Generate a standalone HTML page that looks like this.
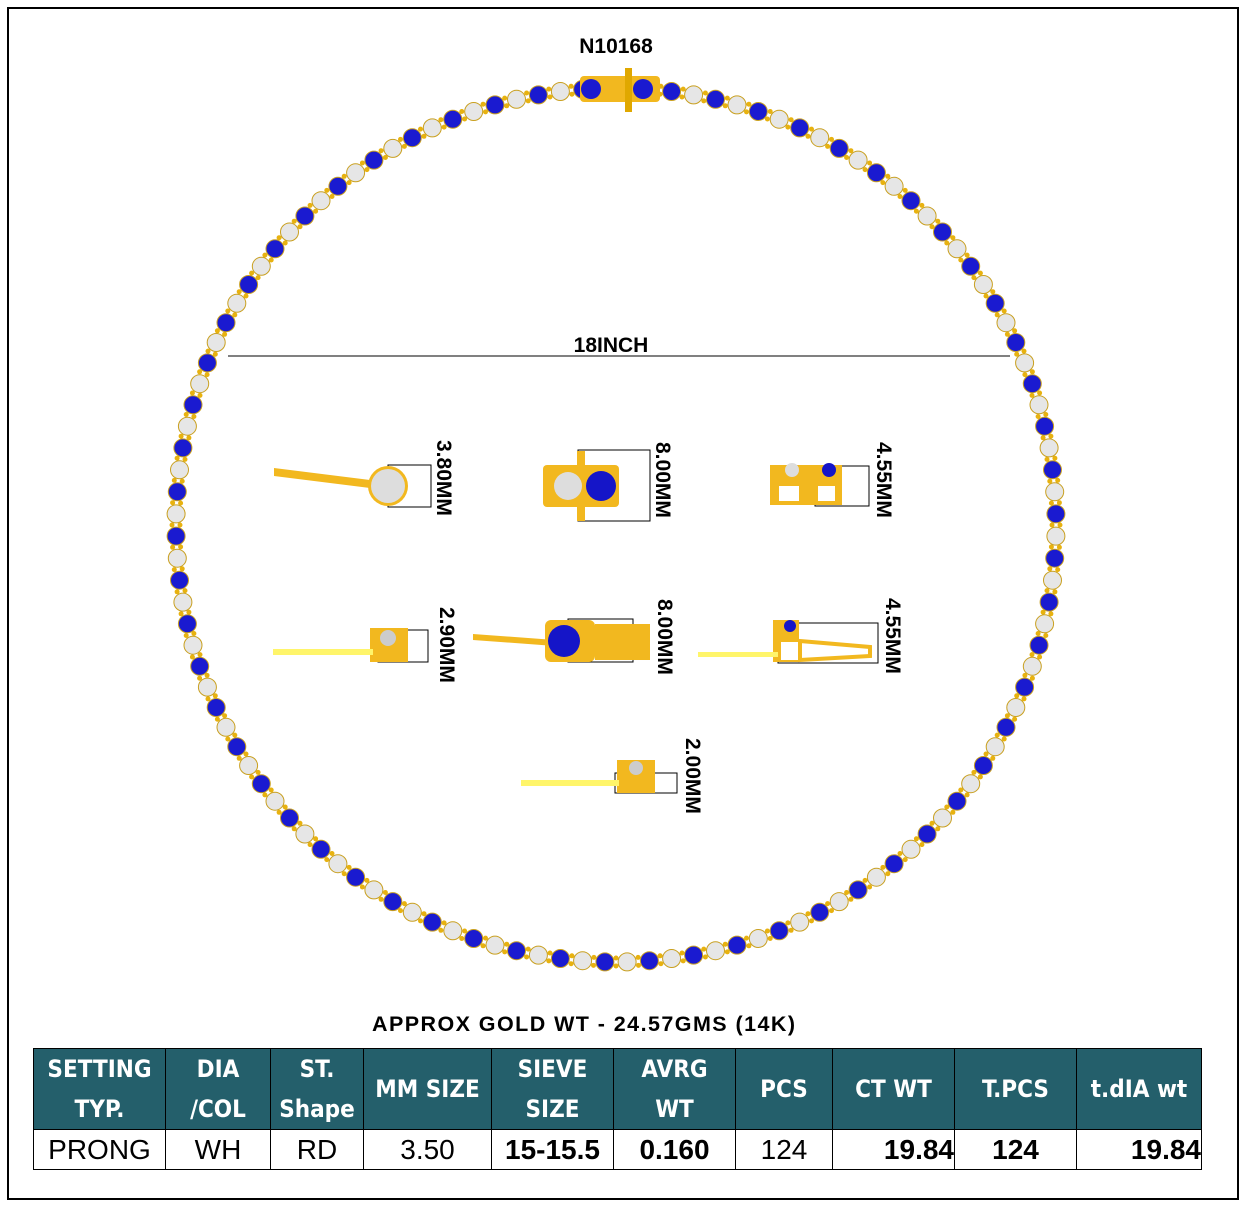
<!DOCTYPE html>
<html><head><meta charset="utf-8"><style>
body{margin:0;background:#fff;width:1248px;height:1207px;position:relative;overflow:hidden;font-family:"Liberation Sans",sans-serif}
#frame{position:absolute;left:7px;top:7px;width:1232px;height:1193px;border:2px solid #000;box-sizing:border-box}
svg{position:absolute;left:0;top:0}
table{position:absolute;left:33px;top:1048px;border-collapse:collapse;table-layout:fixed;width:1168px;font-family:"Liberation Sans",sans-serif}
th{background:#245f6b;color:#fff;font-size:24px;font-weight:bold;height:78px;border:1.5px solid #000;line-height:40px;padding:0;font-family:"DejaVu Sans Condensed","Liberation Sans",sans-serif}
td{height:39px;border:1.5px solid #000;font-size:28px;text-align:center;padding:0}
td.b{font-weight:bold}
</style></head><body>
<div id="frame"></div>
<svg width="1248" height="1207" id="s">
<text x="616" y="53" font-size="21" font-weight="bold" text-anchor="middle" font-family="Liberation Sans">N10168</text>
<line x1="228" y1="356" x2="1010" y2="356" stroke="#000" stroke-width="1"/>
<text x="611" y="352" font-size="21" font-weight="bold" text-anchor="middle" font-family="Liberation Sans">18INCH</text>
<text x="372" y="1031" font-size="21.5" font-weight="bold" font-family="Liberation Sans" textLength="423">APPROX GOLD WT - 24.57GMS (14K)</text>
<g id="ring"></g>
<g stroke="#000" stroke-width="1" fill="none">
<rect x="388" y="465" width="43" height="42"/><rect x="578" y="450" width="72" height="71"/><rect x="815" y="466" width="54" height="40"/>
<rect x="378" y="630" width="50" height="32"/><rect x="568" y="619" width="65" height="43"/><rect x="778" y="623" width="100" height="40"/>
<rect x="615" y="773" width="62" height="20"/>
</g>
<g fill="#f2b81f">
<polygon points="274,468 370,480 370,488 274,476"/>
<circle cx="388" cy="486" r="20"/>
<rect x="543" y="465" width="76" height="42" rx="4"/><rect x="577" y="451" width="8" height="70"/>
<rect x="770" y="465" width="72" height="40"/>
<rect x="370" y="628" width="38" height="34"/>
<polygon points="473,634 555,640 555,646 473,640"/>
<rect x="545" y="620" width="50" height="42" rx="6"/><rect x="595" y="624" width="55" height="36"/>
<rect x="773" y="620" width="26" height="42"/>
<rect x="617" y="760" width="38" height="33"/>
</g>
<g fill="#fff">
<rect x="779" y="486" width="20" height="15"/><rect x="818" y="486" width="17" height="15"/>
<rect x="781" y="642" width="28" height="18"/>
</g>
<polygon points="800,641 870,647 870,656 800,660" fill="none" stroke="#f2b81f" stroke-width="4"/>
<g fill="#fff56a"><rect x="273" y="649" width="100" height="6"/><rect x="698" y="652" width="80" height="5"/><rect x="521" y="780" width="98" height="6"/></g>
<circle cx="388" cy="486" r="17" fill="#ddd"/>
<circle cx="568" cy="486" r="14" fill="#ddd"/><circle cx="601" cy="486" r="15" fill="#1515c8"/>
<circle cx="564" cy="641" r="16" fill="#1515c8"/>
<circle cx="792" cy="470" r="7" fill="#ddd"/><circle cx="829" cy="470" r="7" fill="#1515c8"/>
<circle cx="790" cy="626" r="6" fill="#1515c8"/>
<circle cx="388" cy="638" r="8" fill="#ccc"/><circle cx="636" cy="768" r="7" fill="#ccc"/>
<g font-size="21" font-weight="bold" font-family="Liberation Sans">
<text transform="translate(437,440) rotate(90)">3.80MM</text>
<text transform="translate(656,442) rotate(90)">8.00MM</text>
<text transform="translate(877,442) rotate(90)">4.55MM</text>
<text transform="translate(440,607) rotate(90)">2.90MM</text>
<text transform="translate(658,599) rotate(90)">8.00MM</text>
<text transform="translate(886,598) rotate(90)">4.55MM</text>
<text transform="translate(686,738) rotate(90)">2.00MM</text>
</g>
</svg>
<table>
<colgroup><col style="width:132px"><col style="width:105px"><col style="width:93px"><col style="width:128px"><col style="width:122px"><col style="width:122px"><col style="width:97px"><col style="width:122px"><col style="width:122px"><col style="width:125px"></colgroup>
<tr><th>SETTING<br>TYP.</th><th>DIA<br>/COL</th><th>ST.<br>Shape</th><th>MM SIZE</th><th>SIEVE<br>SIZE</th><th>AVRG<br>WT</th><th>PCS</th><th>CT WT</th><th>T.PCS</th><th>t.dIA wt</th></tr>
<tr><td>PRONG</td><td>WH</td><td>RD</td><td>3.50</td><td class="b">15-15.5</td><td class="b">0.160</td><td>124</td><td class="b" style="text-align:right">19.84</td><td class="b">124</td><td class="b" style="text-align:right">19.84</td></tr>
</table>
<script>
var g=document.getElementById('ring'),h='',cx=616,cy=525,rx=440,ry=437,n=124;
for(var i=0;i<n;i++){var a=-Math.PI/2+(i+0.5)*2*Math.PI/n;
var x=cx+rx*Math.cos(a),y=cy+ry*Math.sin(a);
var a2=a+Math.PI/n,x2=cx+(rx+4)*Math.cos(a2),y2=cy+(ry+4)*Math.sin(a2),x3=cx+(rx-4)*Math.cos(a2),y3=cy+(ry-4)*Math.sin(a2);
h+='<circle cx="'+x2.toFixed(1)+'" cy="'+y2.toFixed(1)+'" r="2.5" fill="#e8b20f"/><circle cx="'+x3.toFixed(1)+'" cy="'+y3.toFixed(1)+'" r="2.5" fill="#e8b20f"/>';
h+='<circle cx="'+x.toFixed(1)+'" cy="'+y.toFixed(1)+'" r="9" fill="'+(i%2?'#e6e6e6':'#1a1ad0')+'" stroke="#c9a020" stroke-width="1"/>';}
h+='<rect x="580" y="76" width="80" height="26" rx="4" fill="#f2b81f"/><rect x="625" y="68" width="7" height="44" fill="#e0a800"/><circle cx="591" cy="89" r="10" fill="#1a1ad0"/><circle cx="643" cy="89" r="10" fill="#1a1ad0"/>';
g.innerHTML=h;
</script>
</body></html>
